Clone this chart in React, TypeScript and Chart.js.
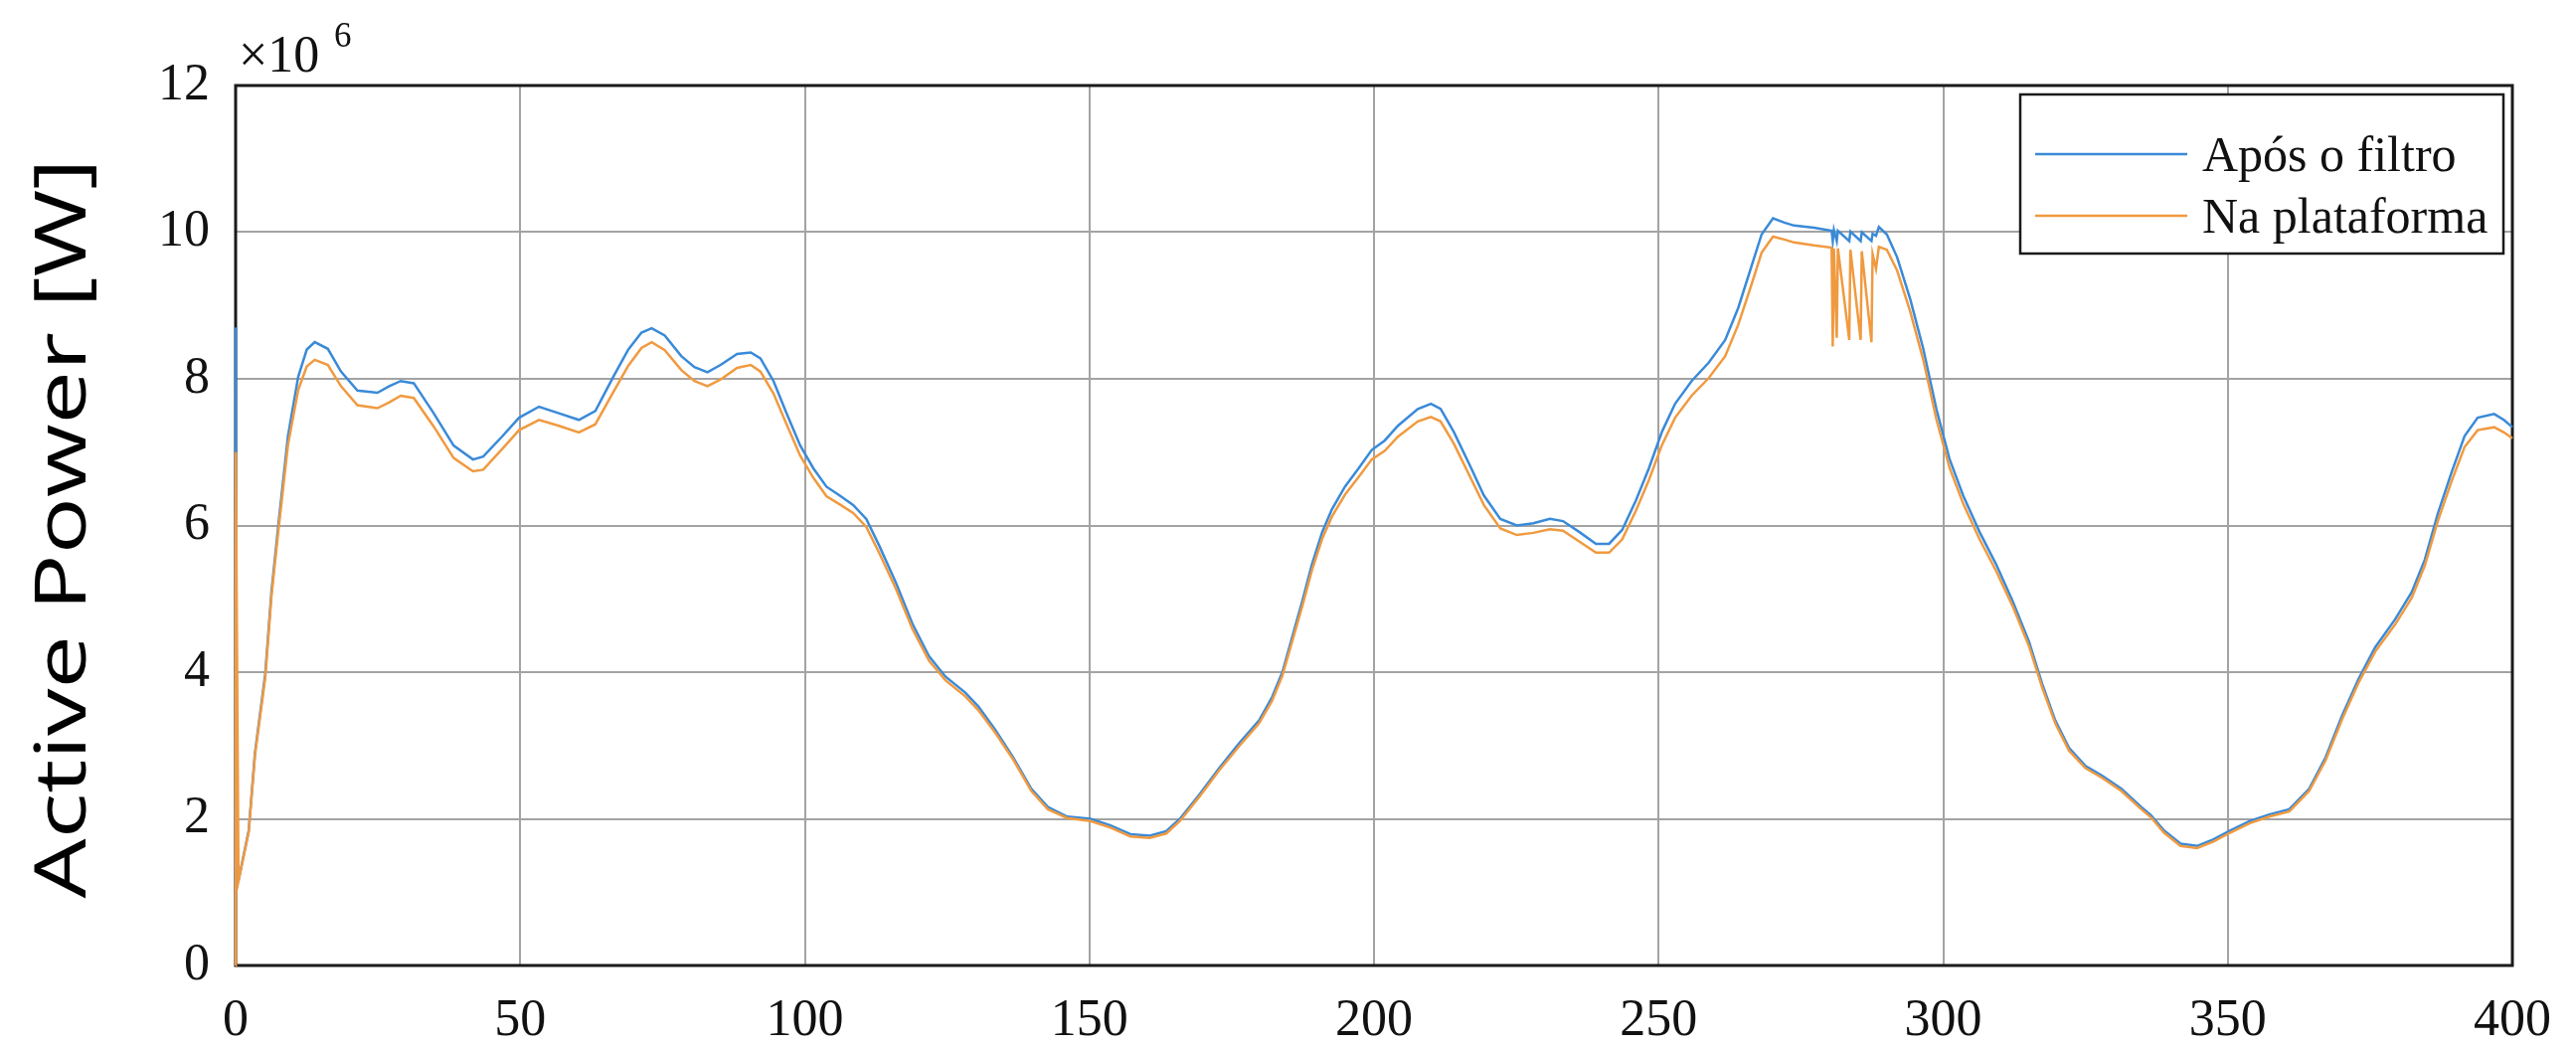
import React, { useEffect, useRef } from "react";
import { Chart, registerables } from "chart.js";

Chart.register(...registerables);

// Time axis [s] (shared by both series)
const TIME = [
  0, 0.03, 0.5, 2.3, 3.4, 5.2, 6.3, 7.5, 9.2, 11.0, 12.5, 13.9, 16.2, 18.5, 21.4, 24.9, 27.0, 29.0, 31.3,
  34.8, 38.3, 41.7, 43.5, 46.9, 49.8, 53.3, 56.8, 60.3, 63.2, 66.5, 69.0, 71.3, 73.1, 75.4, 78.3, 80.6,
  82.9, 85.2, 88.1, 90.5, 92.2, 94.5, 96.8, 99.2, 101.5, 103.8, 106.1, 108.5, 110.8, 113.1, 116.0, 118.9,
  121.8, 124.7, 128.2, 130.5, 133.4, 136.6, 139.8, 142.7, 146.1, 150.2, 153.7, 157.2, 160.6, 163.5, 165.9,
  169.4, 172.8, 176.3, 179.8, 182.1, 183.9, 185.6, 187.4, 189.1, 190.9, 192.6, 194.9, 197.3, 199.6, 201.9,
  204.2, 207.7, 210.0, 211.7, 214.0, 216.9, 219.3, 222.2, 225.1, 228.0, 230.9, 233.2, 236.1, 239.0, 241.3,
  243.6, 246.0, 248.3, 250.6, 252.9, 255.8, 258.8, 261.7, 264.0, 266.3, 268.1, 270.1, 272.1, 273.8, 277.3,
  280.4, 280.6, 280.8, 281.3, 281.5, 283.5, 283.7, 285.5, 285.7, 287.4, 287.6, 288.2, 288.7, 290.1, 291.9,
  294.2, 296.5, 298.8, 301.1, 303.5, 306.4, 309.3, 312.2, 315.1, 317.4, 319.7, 322.1, 325.0, 327.9, 331.3,
  334.8, 336.5, 338.8, 341.7, 344.6, 347.5, 350.4, 353.9, 357.3, 360.8, 364.3, 367.2, 370.1, 373.0, 375.9,
  379.4, 382.3, 384.6, 386.9, 389.3, 391.6, 393.9, 396.8, 398.5, 400.0,
];

// Active power after the filter [x10^6 W]
const AFTER_FILTER = [
  8.7, 1.15, 1.16, 1.84, 2.9, 3.97, 5.1, 6.0, 7.22, 8.03, 8.4, 8.5, 8.41, 8.1, 7.84, 7.81, 7.9, 7.97, 7.94,
  7.53, 7.09, 6.9, 6.94, 7.22, 7.47, 7.62, 7.53, 7.44, 7.56, 8.05, 8.4, 8.63, 8.69, 8.59, 8.31, 8.16,
  8.09, 8.19, 8.34, 8.36, 8.28, 7.97, 7.53, 7.09, 6.78, 6.53, 6.41, 6.28, 6.09, 5.72, 5.22, 4.66,
  4.22, 3.94, 3.72, 3.53, 3.22, 2.84, 2.41, 2.16, 2.03, 2.0, 1.91, 1.79, 1.77, 1.83, 2.0,
  2.34, 2.69, 3.03, 3.34, 3.66, 4.0, 4.47, 4.97, 5.47, 5.91, 6.22, 6.53, 6.78, 7.03, 7.16,
  7.36, 7.59, 7.66, 7.59, 7.28, 6.81, 6.41, 6.09, 6.0, 6.03, 6.09, 6.06, 5.91, 5.75, 5.75,
  5.94, 6.34, 6.78, 7.28, 7.66, 7.97, 8.22, 8.53, 8.97, 9.53, 9.97, 10.19, 10.13, 10.09, 10.06,
  10.02, 9.88, 10.03, 9.88, 10.02, 9.88, 10.01, 9.88, 10.0, 9.88, 9.98, 9.95, 10.07, 9.97, 9.66,
  9.09, 8.41, 7.59, 6.91, 6.41, 5.91, 5.47, 4.97, 4.41, 3.84, 3.34, 2.97, 2.72, 2.59, 2.41,
  2.16, 2.05, 1.84, 1.66, 1.63, 1.72, 1.84, 1.97, 2.06, 2.13, 2.41, 2.84, 3.41, 3.91, 4.34,
  4.72, 5.09, 5.53, 6.16, 6.72, 7.22, 7.47, 7.52, 7.44, 7.34,
];

// Active power measured at the platform [x10^6 W]
const AT_PLATFORM = [
  0.0, 7.0, 1.15, 1.82, 2.87, 3.92, 5.04, 5.92, 7.1, 7.85, 8.17, 8.26, 8.19, 7.9, 7.64, 7.6, 7.68, 7.77, 7.74,
  7.35, 6.92, 6.74, 6.76, 7.05, 7.3, 7.44, 7.36, 7.27, 7.38, 7.84, 8.18, 8.42, 8.5, 8.39, 8.12, 7.97,
  7.9, 7.99, 8.15, 8.19, 8.1, 7.8, 7.38, 6.95, 6.65, 6.4, 6.29, 6.17, 5.98, 5.62, 5.14, 4.59,
  4.16, 3.89, 3.67, 3.48, 3.18, 2.81, 2.38, 2.13, 2.01, 1.97, 1.88, 1.76, 1.74, 1.8, 1.97,
  2.31, 2.66, 2.99, 3.3, 3.61, 3.95, 4.41, 4.9, 5.39, 5.82, 6.12, 6.42, 6.66, 6.9, 7.02,
  7.21, 7.42, 7.48, 7.42, 7.12, 6.66, 6.28, 5.96, 5.87, 5.9, 5.95, 5.93, 5.78, 5.63, 5.63,
  5.81, 6.2, 6.62, 7.1, 7.47, 7.77, 8.01, 8.31, 8.74, 9.28, 9.72, 9.94, 9.9, 9.86, 9.82,
  9.79, 8.44, 9.78, 8.56, 9.78, 8.53, 9.76, 8.53, 9.74, 8.5, 9.7, 9.5, 9.8, 9.76, 9.48,
  8.92, 8.26, 7.45, 6.79, 6.3, 5.81, 5.38, 4.9, 4.35, 3.79, 3.3, 2.93, 2.69, 2.56, 2.38,
  2.13, 2.02, 1.81, 1.63, 1.6, 1.69, 1.81, 1.94, 2.03, 2.1, 2.38, 2.8, 3.36, 3.86, 4.28,
  4.65, 5.01, 5.45, 6.06, 6.6, 7.07, 7.3, 7.34, 7.27, 7.19,
];

const X_TICKS = [0, 50, 100, 150, 200, 250, 300, 350, 400];
const Y_TICKS = [0, 2, 4, 6, 8, 10, 12];
const SERIES_NAMES = ["Após o filtro", "Na plataforma"];
const Y_TITLE = "Active Power [W]";
const EXPONENT = "6";

const BLUE = "#3a8ad8";
const ORANGE = "#f09a40";
const SERIF = "'Liberation Serif', 'Times New Roman', serif";

const W = 2591;
const H = 1054;

// Closed axes frame, drawn underneath the curves
const frame = {
  id: "frame",
  beforeDatasetsDraw(chart: any) {
    const { ctx, chartArea } = chart;
    const { left, top, right, bottom } = chartArea;
    ctx.save();
    ctx.strokeStyle = "#1a1a1a";
    ctx.lineWidth = 3;
    ctx.strokeRect(left, top, right - left, bottom - top);
    ctx.restore();
  },
};

// Legend box, exponent and y-axis title
const decorations = {
  id: "decorations",
  afterDatasetsDraw(chart: any) {
    const { ctx, chartArea } = chart;
    const { top, bottom } = chartArea;
    ctx.save();

    // legend
    const lx = 2032, ly = 95, lw = 486, lh = 160;
    ctx.fillStyle = "#ffffff";
    ctx.fillRect(lx, ly, lw, lh);
    ctx.strokeStyle = "#1a1a1a";
    ctx.lineWidth = 2.5;
    ctx.strokeRect(lx, ly, lw, lh);
    const rows = [155, 217];
    const colors = [BLUE, ORANGE];
    ctx.font = `50px ${SERIF}`;
    ctx.textAlign = "left";
    ctx.textBaseline = "alphabetic";
    rows.forEach((ry, i) => {
      ctx.strokeStyle = colors[i];
      ctx.lineWidth = 2.5;
      ctx.beginPath();
      ctx.moveTo(2047, ry);
      ctx.lineTo(2200, ry);
      ctx.stroke();
      ctx.fillStyle = "#111111";
      ctx.fillText(SERIES_NAMES[i], 2215, ry + 17);
    });

    // exponent above the y axis
    ctx.fillStyle = "#111111";
    ctx.font = `52px ${SERIF}`;
    ctx.fillText("\u00d710", 240, 72);
    ctx.font = `35px ${SERIF}`;
    ctx.fillText(EXPONENT, 336, 47);

    // y-axis title (wide lettering)
    ctx.translate(86, (top + bottom) / 2 + 3);
    ctx.rotate(-Math.PI / 2);
    ctx.scale(1.32, 1);
    ctx.font = `72px 'Open Sans', sans-serif`;
    ctx.textAlign = "center";
    ctx.fillStyle = "#000000";
    ctx.fillText(Y_TITLE, 0, 0);
    ctx.restore();
  },
};

export default function App() {
  const canvasRef = useRef<HTMLCanvasElement | null>(null);

  useEffect(() => {
    const canvas = canvasRef.current;
    if (!canvas) return;
    const toPoints = (ys: number[]) => TIME.map((t, i) => ({ x: t, y: ys[i] }));
    const chart = new Chart(canvas, {
      type: "line",
      data: {
        datasets: [
          {
            label: SERIES_NAMES[0],
            data: toPoints(AFTER_FILTER),
            borderColor: BLUE,
            borderWidth: 2.5,
            pointRadius: 0,
            tension: 0,
            clip: 4,
            order: 1,
          },
          {
            label: SERIES_NAMES[1],
            data: toPoints(AT_PLATFORM),
            borderColor: ORANGE,
            borderWidth: 2.5,
            pointRadius: 0,
            tension: 0,
            clip: 4,
            order: 0,
          },
        ],
      },
      options: {
        animation: false,
        responsive: false,
        devicePixelRatio: 1,
        layout: { padding: { top: 86, right: 56, left: 0, bottom: 0 } },
        plugins: { legend: { display: false }, tooltip: { enabled: false } },
        scales: {
          x: {
            type: "linear",
            min: 0,
            max: 400,
            afterBuildTicks: (s: any) => {
              s.ticks = X_TICKS.map((v) => ({ value: v }));
            },
            afterFit: (s: any) => {
              s.height = 83;
            },
            grid: { color: "#a3a3a3", lineWidth: 2, drawTicks: false },
            border: { display: false },
            ticks: {
              padding: 25,
              color: "#111111",
              maxRotation: 0,
              autoSkip: false,
              font: { family: SERIF, size: 52 },
            },
          },
          y: {
            type: "linear",
            min: 0,
            max: 12,
            afterBuildTicks: (s: any) => {
              s.ticks = Y_TICKS.map((v) => ({ value: v }));
            },
            afterFit: (s: any) => {
              s.width = 237;
            },
            grid: { color: "#a3a3a3", lineWidth: 2, drawTicks: false },
            border: { display: false },
            ticks: {
              padding: 26,
              color: "#111111",
              autoSkip: false,
              font: { family: SERIF, size: 52 },
            },
          },
        },
      },
      plugins: [frame, decorations],
    });
    return () => chart.destroy();
  }, []);

  return (
    <div style={{ position: "fixed", left: 0, top: 0, width: W, height: H, background: "#ffffff" }}>
      <canvas ref={canvasRef} width={W} height={H} style={{ width: W, height: H, display: "block" }} />
    </div>
  );
}
